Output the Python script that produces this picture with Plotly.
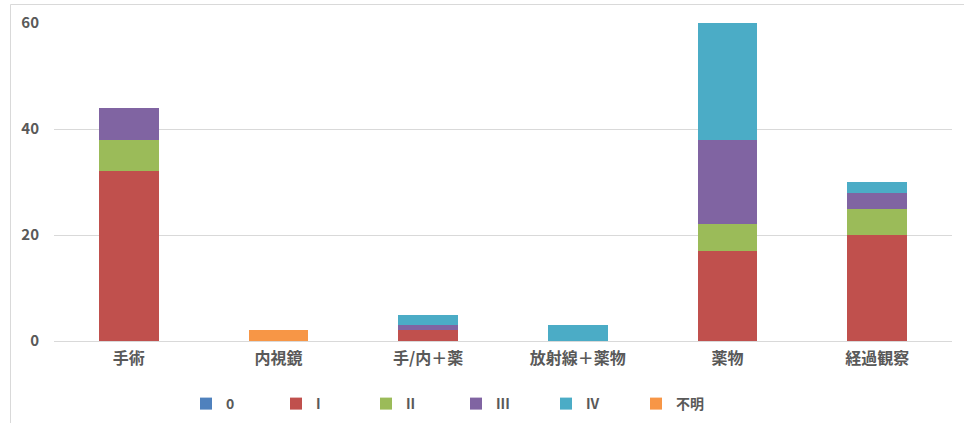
import plotly.graph_objects as go

categories = ["手術", "内視鏡", "手/内＋薬", "放射線＋薬物", "薬物", "経過観察"]
series_names = ["0", "I", "II", "III", "IV", "不明"]
s0 = [None, None, None, None, None, None]
s1 = [32, None, 2, None, 17, 20]
s2 = [6, None, None, None, 5, 5]
s3 = [6, None, 1, None, 16, 3]
s4 = [None, None, 2, 3, 22, 2]
s_unknown = [None, 2, None, None, None, None]
y_ticks = [0, 20, 40, 60]

colors = ["#4F81BD", "#C0504D", "#9BBB59", "#8064A2", "#4BACC6", "#F79646"]
values = [s0, s1, s2, s3, s4, s_unknown]

fig = go.Figure()
for name, vals, col in zip(series_names, values, colors):
    fig.add_trace(go.Bar(name=name, x=categories, y=vals, marker=dict(color=col, line=dict(width=0))))

W, H = 964, 423
ml, mr, mt, mb = 54, 12, 23, 82
pw, ph = W - ml - mr, H - mt - mb

def px_x(p):
    return (p - ml) / pw

def px_y(p):
    return (H - mb - p) / ph

font = dict(family="Noto Sans CJK JP", size=15, color="#595959", weight="bold")
xfont = dict(family="Noto Sans CJK JP", size=16, color="#595959", weight="bold")
lfont = dict(family="Noto Sans CJK JP", size=14, color="#595959", weight="bold")

fig.update_layout(
    width=W, height=H,
    margin=dict(l=ml, r=mr, t=mt, b=mb, autoexpand=False),
    barmode="stack",
    bargap=0.6,
    plot_bgcolor="white",
    paper_bgcolor="white",
    font=font,
    showlegend=True,
    legend=dict(orientation="h", x=px_x(186), xanchor="left", y=px_y(404), yanchor="middle",
                entrywidth=45, entrywidthmode="pixels", font=lfont, traceorder="normal",
                itemwidth=30),
    xaxis=dict(showgrid=False, showline=False, ticks="", tickfont=xfont, ticklabelstandoff=6),
    yaxis=dict(range=[0, 60], tickvals=y_ticks, showgrid=True, gridcolor="#D9D9D9", gridwidth=1,
               zeroline=True, zerolinecolor="#D9D9D9", zerolinewidth=1, tickfont=font, ticks="",
               ticklabelstandoff=14),
    shapes=[
        dict(type="line", xref="paper", yref="paper", x0=px_x(10.5), x1=px_x(10.5), y0=px_y(423), y1=px_y(4.5),
             line=dict(color="#D9D9D9", width=1)),
        dict(type="line", xref="paper", yref="paper", x0=px_x(10.5), x1=px_x(964), y0=px_y(4.5), y1=px_y(4.5),
             line=dict(color="#D9D9D9", width=1)),
    ],
)

fig.write_html("out.html", config={"displayModeBar": False},
               post_script="document.body.style.margin='0';")
